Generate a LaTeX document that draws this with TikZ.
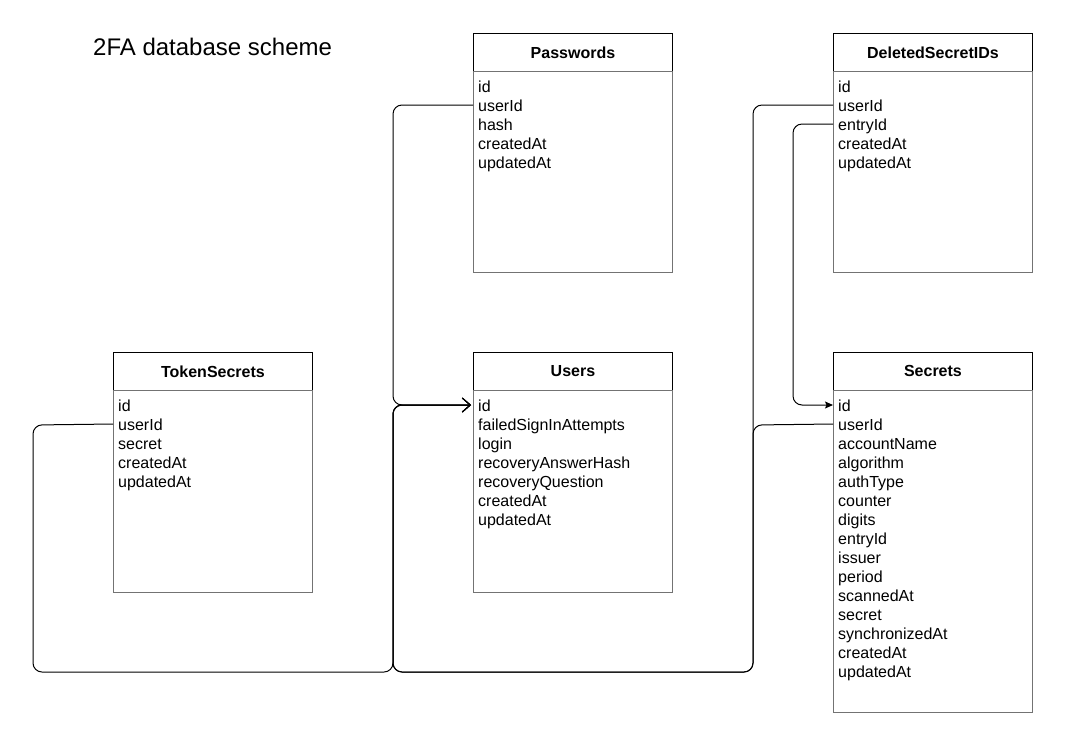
\documentclass[tikz,border=0pt]{standalone}
\usepackage{fontspec}
\setmainfont{Liberation Sans}
\usetikzlibrary{arrows.meta}
\tikzset{
  hdr/.style={draw=black, line width=0.9pt, minimum width=199pt, minimum height=38pt, inner sep=0pt, font=\fontsize{16}{19}\selectfont\bfseries},
  bodybox/.style={draw=black!55, line width=0.9pt, minimum width=199pt, inner sep=0pt},
  row/.style={anchor=west, inner xsep=5pt, inner ysep=0pt, text height=14pt, text depth=2pt, text width=189pt, align=left, font=\fontsize{16}{19}\selectfont},
  link/.style={draw=black, line width=1pt, rounded corners=9pt},
  openarrow/.style={-{Straight Barb[length=8pt,width=14pt,line width=1pt]}},
  fillarrow/.style={-{Stealth[length=8pt,width=7pt,inset=1.5pt]}}
}
\newcommand\dbtable[6]{%
  \node[hdr, anchor=north west] (#1) at (#2,#3) {#5};
  \node[bodybox, anchor=north west, minimum height={(#4-#3-38)*1pt}] (#1-body) at (#2,#3+38) {};
  \foreach \r [count=\i] in {#6} {
    \node[row] (#1-\r) at (#2,#3+53+\i*19-19) {\r};
  }
}
\begin{document}
\begin{tikzpicture}[x=1pt,y=-1pt]
\useasboundingbox (0,0) rectangle (1065,748);
\node[anchor=west, inner sep=0pt, font=\fontsize{24}{28}\selectfont] (title) at (93,47) {2FA database scheme};
\dbtable{pw}{473}{33}{272}{Passwords}{id,userId,hash,createdAt,updatedAt}
\dbtable{del}{833}{33}{272}{DeletedSecretIDs}{id,userId,entryId,createdAt,updatedAt}
\dbtable{tok}{113}{352}{592}{TokenSecrets}{id,userId,secret,createdAt,updatedAt}
\dbtable{usr}{473}{352}{592}{Users}{id,failedSignInAttempts,login,recoveryAnswerHash,recoveryQuestion,createdAt,updatedAt}
\dbtable{sec}{833}{352}{712}{Secrets}{id,userId,accountName,algorithm,authType,counter,digits,entryId,issuer,period,scannedAt,secret,synchronizedAt,createdAt,updatedAt}
\coordinate (bus) at (393,672);
% connectors to Users.id
\draw[link, openarrow] (pw-userId.west) -| (bus |- usr-id.west) -- ([xshift=-2pt]usr-id.west);
\draw[link, openarrow] (tok-userId.west) -- (33,425) |- (bus) |- ([xshift=-2pt]usr-id.west);
\draw[link, openarrow] (sec-userId.west) -- (753,425) |- (bus) |- ([xshift=-2pt]usr-id.west);
\draw[link, openarrow] (del-userId.west) -- (753,105) |- (bus) |- ([xshift=-2pt]usr-id.west);
% entryId -> Secrets.id
\draw[link, fillarrow] (del-entryId.west) -- (793,124) |- (sec-id.west);
\end{tikzpicture}
\end{document}
